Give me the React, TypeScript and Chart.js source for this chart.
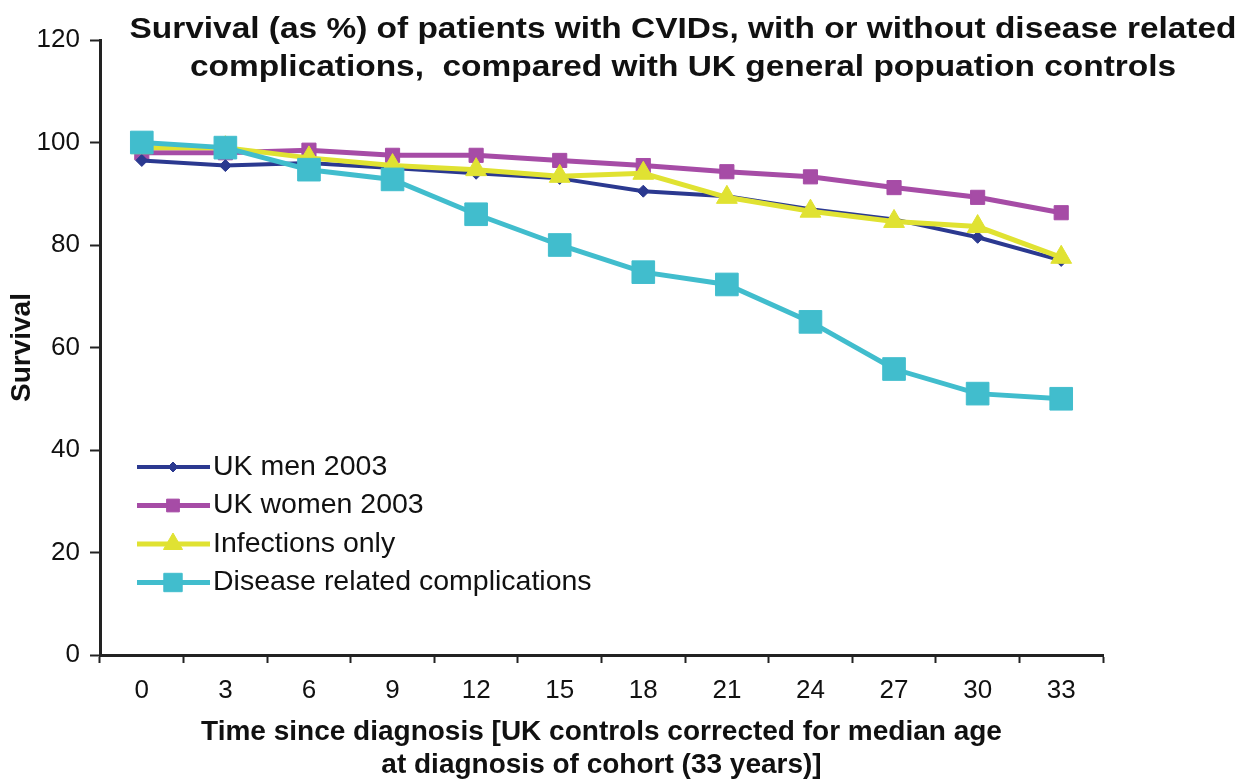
import React, { useEffect, useRef } from 'react';
import { Chart, registerables } from 'chart.js';

Chart.register(...registerables);

const categories = ['0', '3', '6', '9', '12', '15', '18', '21', '24', '27', '30', '33'];
const ukMen2003 = [96.5, 95.5, 96, 95, 94, 93, 90.5, 89.5, 87, 85, 81.5, 77];
const ukWomen2003 = [98, 98, 98.5, 97.5, 97.5, 96.5, 95.5, 94.3, 93.3, 91.2, 89.3, 86.3];
const infectionsOnly = [99, 99, 97, 95.5, 94.7, 93.4, 94, 89.3, 86.6, 84.6, 83.6, 77.6];
const diseaseComplications = [100, 99, 94.7, 92.8, 86, 80, 74.7, 72.3, 65, 55.8, 51, 50];
const seriesNames = ['UK men 2003', 'UK women 2003', 'Infections only', 'Disease related complications'];
const titleLines = [
  'Survival (as %) of patients with CVIDs, with or without disease related',
  'complications,  compared with UK general popuation controls',
];
const xTitleLines = [
  'Time since diagnosis [UK controls corrected for median age',
  'at diagnosis of cohort (33 years)]',
];
const yTitle = 'Survival';
const yMin = 0;
const yMax = 120;
const yStep = 20;

const FAMILY = '"Liberation Sans", Arial, Helvetica, sans-serif';

function drawMarker(ctx: CanvasRenderingContext2D, style: string, x: number, y: number, r: number, color: string) {
  ctx.save();
  ctx.fillStyle = color;
  ctx.strokeStyle = color;
  ctx.lineWidth = 1;
  ctx.beginPath();
  if (style === 'rectRot') {
    ctx.moveTo(x, y - r);
    ctx.lineTo(x + r, y);
    ctx.lineTo(x, y + r);
    ctx.lineTo(x - r, y);
    ctx.closePath();
  } else if (style === 'triangle') {
    const a = Math.PI * 2 / 3;
    ctx.moveTo(x, y - r);
    ctx.lineTo(x + Math.sin(a) * r, y - Math.cos(a) * r);
    ctx.lineTo(x + Math.sin(2 * a) * r, y - Math.cos(2 * a) * r);
    ctx.closePath();
  } else {
    const s = Math.SQRT1_2 * r;
    ctx.rect(x - s, y - s, 2 * s, 2 * s);
  }
  ctx.fill();
  ctx.stroke();
  ctx.restore();
}

export default function App() {
  const ref = useRef<HTMLCanvasElement>(null);

  useEffect(() => {
    if (!ref.current) return;
    const colors = ['#2b3990', '#a64ca6', '#e0e232', '#41bdcd'];
    const styles = ['rectRot', 'rect', 'triangle', 'rect'];
    const radii = [6, 10, 12, 16];
    const widths = [4, 5, 5, 5];
    const orders = [2, 3, 1, 0];
    const values = [ukMen2003, ukWomen2003, infectionsOnly, diseaseComplications];

    const datasets = values.map((v, i) => ({
      label: seriesNames[i],
      data: v,
      borderColor: colors[i],
      backgroundColor: colors[i],
      pointBackgroundColor: colors[i],
      pointBorderColor: colors[i],
      borderWidth: widths[i],
      pointStyle: styles[i] as any,
      pointRadius: radii[i],
      pointBorderWidth: 1,
      tension: 0,
      order: orders[i],
    }));

    const bgPlugin = {
      id: 'bg',
      beforeDraw(chart: any) {
        const c = chart.ctx;
        c.save();
        c.fillStyle = '#ffffff';
        c.fillRect(0, 0, chart.width, chart.height);
        c.restore();
      },
    };

    const titlePlugin = {
      id: 'customTitle',
      afterDraw(chart: any) {
        const c = chart.ctx as CanvasRenderingContext2D;
        c.save();
        c.font = `bold 30px ${FAMILY}`;
        c.fillStyle = '#111111';
        c.textAlign = 'center';
        c.textBaseline = 'middle';
        const w = c.measureText(titleLines[0]).width;
        const sx = 1107 / w;
        const cx = 683;
        titleLines.forEach((line, i) => {
          c.save();
          c.translate(cx, 30 + i * 38);
          c.scale(sx, 1);
          c.fillText(line, 0, 0);
          c.restore();
        });
        c.restore();
      },
    };

    const legendPlugin = {
      id: 'customLegend',
      afterDraw(chart: any) {
        const c = chart.ctx as CanvasRenderingContext2D;
        c.save();
        c.font = `28.5px ${FAMILY}`;
        c.textAlign = 'left';
        c.textBaseline = 'middle';
        const legendRadii = [5, 9, 11, 13];
        chart.data.datasets.forEach((ds: any, i: number) => {
          const y = 467 + i * 38.5;
          c.strokeStyle = ds.borderColor;
          c.lineWidth = ds.borderWidth;
          c.beginPath();
          c.moveTo(137, y);
          c.lineTo(210, y);
          c.stroke();
          drawMarker(c, ds.pointStyle, 173, y, legendRadii[i], ds.borderColor);
          c.fillStyle = '#111111';
          c.fillText(ds.label, 213, y);
        });
        c.restore();
      },
    };

    const chart = new Chart(ref.current, {
      type: 'line',
      data: { labels: categories, datasets },
      options: {
        animation: false,
        responsive: false,
        maintainAspectRatio: false,
        layout: { padding: { top: 40, right: 144, left: 0, bottom: 0 } },
        plugins: {
          legend: { display: false },
          title: { display: false },
          tooltip: { enabled: false },
        },
        scales: {
          x: {
            offset: true,
            grid: {
              offset: true,
              drawOnChartArea: false,
              drawTicks: true,
              tickLength: 8,
              tickColor: '#222222',
              tickWidth: 2,
            },
            border: { display: true, color: '#222222', width: 3 },
            ticks: {
              font: { size: 26, family: FAMILY },
              color: '#111111',
              padding: 12,
              maxRotation: 0,
              autoSkip: false,
            },
            title: {
              display: true,
              text: xTitleLines,
              color: '#111111',
              font: { size: 28, weight: 'bold', family: FAMILY, lineHeight: 1.15 },
              padding: { top: 0, bottom: 0 },
            },
            afterFit(scale: any) {
              scale.height = 126;
            },
          },
          y: {
            min: yMin,
            max: yMax,
            ticks: {
              stepSize: yStep,
              font: { size: 26, family: FAMILY },
              color: '#111111',
              padding: 10,
            },
            grid: {
              drawOnChartArea: false,
              drawTicks: true,
              tickLength: 10,
              tickColor: '#222222',
              tickWidth: 2,
            },
            border: { display: true, color: '#222222', width: 3 },
            title: {
              display: true,
              text: yTitle,
              color: '#111111',
              font: { size: 28, weight: 'bold', family: FAMILY },
              padding: { top: 5, bottom: 0 },
            },
            afterFit(scale: any) {
              scale.width = 100;
            },
          },
        },
      },
      plugins: [bgPlugin, titlePlugin, legendPlugin],
    } as any);

    return () => chart.destroy();
  }, []);

  return (
    <div style={{ position: 'absolute', left: 0, top: 0, width: 1247, height: 781, background: '#ffffff' }}>
      <canvas ref={ref} width={1247} height={781} style={{ display: 'block', width: 1247, height: 781 }} />
    </div>
  );
}
